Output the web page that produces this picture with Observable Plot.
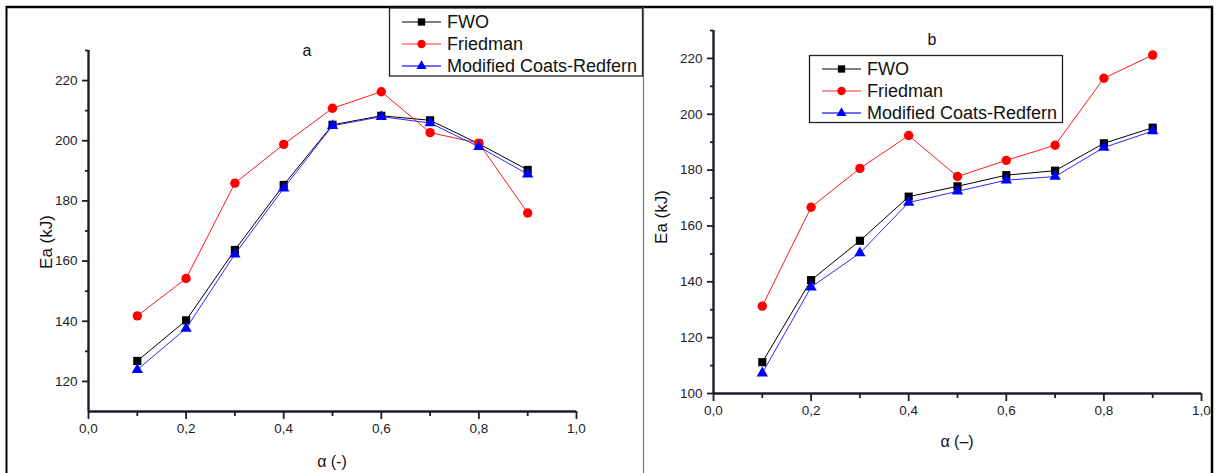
<!DOCTYPE html>
<html><head><meta charset="utf-8">
<script src="https://cdn.jsdelivr.net/npm/d3@7"></script>
<script src="https://cdn.jsdelivr.net/npm/@observablehq/plot@0.6"></script>
<style>
body{margin:0;background:#fff;font-family:"Liberation Sans",Arial,sans-serif;}
#wrap{position:relative;width:1219px;height:473px;overflow:hidden;background:#fff;}
#wrap > svg{position:absolute;}
svg.plotpanel text{font-size:13.5px !important;fill:#1c1c2a;font-family:"Liberation Sans",Arial,sans-serif;}
</style></head><body><div id="wrap"></div>
<script>
// ---- data ----
const alpha = [0.1, 0.2, 0.3, 0.4, 0.5, 0.6, 0.7, 0.8, 0.9];
const seriesNames = ["FWO", "Friedman", "Modified Coats-Redfern"];
const panelTitles = ["a", "b"];
const xLabels = ["α (-)", "α (–)"];
const yLabel = "Ea (kJ)";

const fwoA      = [126.8, 140.3, 163.7, 185.3, 205.3, 208.3, 206.8, 199.0, 190.3];
const friedmanA = [141.8, 154.2, 185.9, 198.8, 210.8, 216.3, 202.7, 199.2, 176.0];
const mcrA      = [123.9, 137.6, 162.3, 184.2, 205.0, 208.0, 205.9, 198.0, 188.9];

const fwoB      = [111.2, 140.6, 154.7, 170.5, 174.2, 178.2, 179.8, 189.6, 195.2];
const friedmanB = [131.3, 166.7, 180.6, 192.4, 177.7, 183.5, 188.9, 212.9, 221.2];
const mcrB      = [107.3, 138.1, 150.3, 168.4, 172.4, 176.4, 177.7, 188.1, 194.0];

const xMajorTicks = [0, 0.2, 0.4, 0.6, 0.8, 1.0];
const xMinorTicks = [0.1, 0.3, 0.5, 0.7, 0.9];
const yMajorTicksA = [120, 140, 160, 180, 200, 220];
const yMinorTicksA = [130, 150, 170, 190, 210, 230];
const yMajorTicksB = [100, 120, 140, 160, 180, 200, 220];
const yMinorTicksB = [110, 130, 150, 170, 190, 210, 230];
const yDomainA = [110, 230];
const yDomainB = [100, 230];

// ---- styles ----
const lineColors = ["#000000", "#ff1a1a", "#2a2aff"];
const fillColors = ["#000000", "#ff0000", "#0000ff"];
const symbols = ["square", "circle", "triangle"];
const radii = [4.6, 4.7, 4.2];
const FONT = '"Liberation Sans", Arial, sans-serif';

function panel(ys, yDomain, yMajor, yMinor, geom) {
  const data = [];
  ys.forEach((arr, si) => arr.forEach((v, i) => data.push({s: si, x: alpha[i], y: v})));
  const fmt = d => d.toFixed(1).replace(".", ",");
  const marks = [
    Plot.axisX(xMinorTicks, {tickSize: 5, tickFormat: () => "", strokeWidth: 1.8, label: null}),
    Plot.axisX(xMajorTicks, {tickSize: 8, tickPadding: 4, tickFormat: fmt, strokeWidth: 1.8, label: null}),
    Plot.axisY(yMinor, {tickSize: 3, tickFormat: () => "", strokeWidth: 1.8, label: null}),
    Plot.axisY(yMajor, {tickSize: 6, tickPadding: 5, strokeWidth: 1.8, label: null}),
    Plot.ruleX([0], {strokeWidth: 2.4}),
    Plot.ruleY([yDomain[0]], {strokeWidth: 2.4})
  ];
  for (let si = 0; si < ys.length; si++) {
    const d = data.filter(r => r.s === si);
    marks.push(Plot.line(d, {x: "x", y: "y", stroke: lineColors[si], strokeWidth: 1}));
    marks.push(Plot.dot(d, {x: "x", y: "y", symbol: symbols[si], r: radii[si], fill: fillColors[si], stroke: "none"}));
  }
  const svg = Plot.plot({
    width: geom.width, height: geom.height,
    marginLeft: geom.ml, marginRight: geom.mr, marginTop: geom.mt, marginBottom: geom.mb,
    x: {domain: [0, 1]},
    y: {domain: yDomain},
    style: {fontFamily: FONT, fontSize: "13.5px", color: "#1c1c2a", background: "transparent", overflow: "visible"},
    marks
  });
  svg.classList.add("plotpanel");
  svg.style.left = geom.left + "px";
  svg.style.top = "0px";
  return svg;
}

const wrap = document.getElementById("wrap");
wrap.appendChild(panel([fwoA, friedmanA, mcrA], yDomainA, yMajorTicksA, yMinorTicksA,
  {left: 0, width: 640, height: 473, ml: 88, mr: 64, mt: 50, mb: 62}));
wrap.appendChild(panel([fwoB, friedmanB, mcrB], yDomainB, yMajorTicksB, yMinorTicksB,
  {left: 640, width: 579, height: 473, ml: 73, mr: 18, mt: 30, mb: 80}));

// ---- overlay: frames, titles, axis labels, legends ----
const ov = d3.select(wrap).append("svg")
  .attr("width", 1219).attr("height", 473)
  .style("left", "0px").style("top", "0px")
  .style("font-family", FONT);

// frames
ov.append("line").attr("x1", 6).attr("x2", 1213).attr("y1", 7).attr("y2", 7).attr("stroke", "#000").attr("stroke-width", 2.5);
ov.append("line").attr("x1", 6.5).attr("x2", 6.5).attr("y1", 6).attr("y2", 473).attr("stroke", "#000").attr("stroke-width", 2);
ov.append("line").attr("x1", 1212).attr("x2", 1212).attr("y1", 6).attr("y2", 473).attr("stroke", "#000").attr("stroke-width", 2.5);
ov.append("line").attr("x1", 643.5).attr("x2", 643.5).attr("y1", 7).attr("y2", 473).attr("stroke", "#777").attr("stroke-width", 1.2);

// titles
[[307, 50], [932, 39]].forEach(([x, y], i) => {
  ov.append("text").attr("x", x).attr("y", y).attr("text-anchor", "middle").attr("dominant-baseline", "central")
    .attr("font-size", 16).attr("fill", "#111").text(panelTitles[i]);
});
// x labels
[[332, 461], [957, 441]].forEach(([x, y], i) => {
  ov.append("text").attr("x", x).attr("y", y).attr("text-anchor", "middle").attr("dominant-baseline", "central")
    .attr("font-size", 16).attr("fill", "#111").text(xLabels[i]);
});
// y labels
[[46, 242], [661, 217]].forEach(([x, y]) => {
  ov.append("text").attr("transform", `translate(${x},${y}) rotate(-90)`).attr("text-anchor", "middle")
    .attr("dominant-baseline", "central").attr("font-size", 17).attr("fill", "#111").text(yLabel);
});

// legends
function legend(bx, by, bw, bh, rowYs, lx1, lx2, tx) {
  ov.append("rect").attr("x", bx).attr("y", by).attr("width", bw).attr("height", bh)
    .attr("fill", "#fff").attr("stroke", "#222").attr("stroke-width", 1.3);
  const legendLine = ["#000", "#ff2a2a", "#6f6fff"];
  seriesNames.forEach((name, i) => {
    const y = rowYs[i];
    ov.append("line").attr("x1", lx1).attr("x2", lx2).attr("y1", y).attr("y2", y)
      .attr("stroke", legendLine[i]).attr("stroke-width", i === 2 ? 2 : 1.2);
    const sym = d3.symbol().type([d3.symbolSquare, d3.symbolCircle, d3.symbolTriangle][i])
      .size(Math.PI * radii[i] * radii[i] * 0.8);
    ov.append("path").attr("d", sym()).attr("transform", `translate(${(lx1 + lx2) / 2},${y})`)
      .attr("fill", fillColors[i]);
    ov.append("text").attr("x", tx).attr("y", y).attr("dominant-baseline", "central")
      .attr("font-size", 18).attr("fill", "#111").text(name);
  });
}
legend(389.5, 8, 253, 68, [22, 44, 66], 402, 441, 447);
legend(809.5, 55.5, 253, 67, [69, 91, 113], 822, 861, 867);
</script></body></html>
